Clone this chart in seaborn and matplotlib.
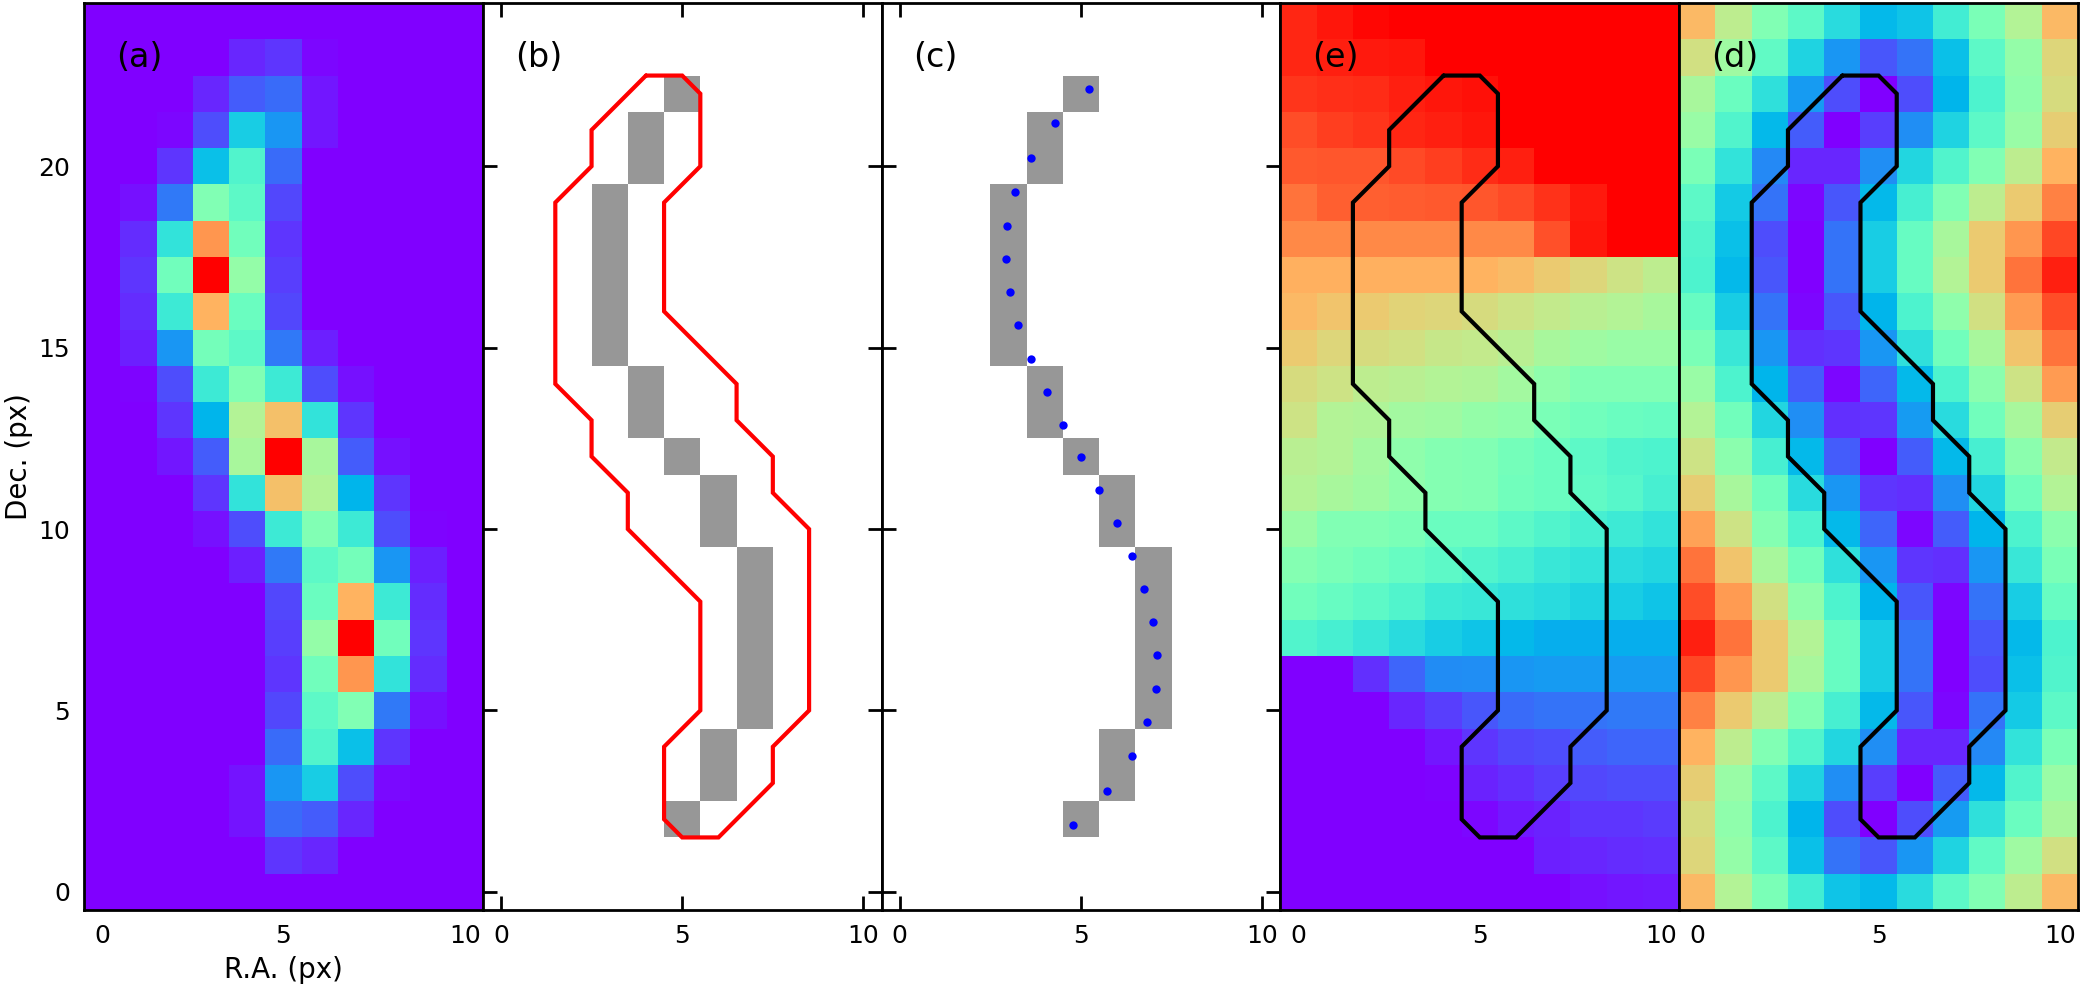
import numpy as np
import pandas as pd
import matplotlib
matplotlib.use("Agg")
import matplotlib.pyplot as plt
from matplotlib.colors import ListedColormap
import seaborn as sns

# Rows run from Dec. = 24 (first) down to Dec. = 0 (last); columns R.A. = 0..10
flux = [
 [0,0,0,0,0,0,0,0,0,0,0],
 [0,0,0,0,.05,.07,.01,0,0,0,0],
 [0,0,0,.05,.12,.14,.03,0,0,0,0],
 [0,0,.01,.10,.30,.20,.03,0,0,0,0],
 [0,0,.07,.27,.41,.14,0,0,0,0,0],
 [0,.02,.16,.50,.43,.09,0,0,0,0,0],
 [0,.055,.35,.80,.47,.07,0,0,0,0,0],
 [0,.07,.47,1,.54,.08,0,0,0,0,0],
 [0,.055,.37,.75,.46,.09,0,0,0,0,0],
 [0,.04,.20,.48,.43,.16,.04,0,0,0,0],
 [0,.005,.10,.37,.50,.37,.10,.02,0,0,0],
 [0,0,.07,.25,.60,.73,.35,.07,0,0,0],
 [0,0,.03,.12,.58,1,.58,.12,.02,0,0],
 [0,0,0,.07,.35,.73,.60,.25,.07,0,0],
 [0,0,0,.02,.10,.37,.50,.37,.10,.005,0],
 [0,0,0,0,.04,.16,.43,.48,.20,.04,0],
 [0,0,0,0,0,.09,.46,.75,.37,.055,0],
 [0,0,0,0,0,.08,.54,1,.47,.07,0],
 [0,0,0,0,0,.07,.47,.80,.35,.055,0],
 [0,0,0,0,0,.09,.43,.50,.16,.02,0],
 [0,0,0,0,0,.14,.41,.27,.07,0,0],
 [0,0,0,0,.025,.20,.30,.10,.015,0,0],
 [0,0,0,0,.025,.14,.12,.05,0,0,0],
 [0,0,0,0,0,.07,.05,0,0,0,0],
 [0,0,0,0,0,0,0,0,0,0,0],
]

velocity = [
 [.95,.97,.99,1,1,1,1,1,1,1,1],
 [.95,.96,.965,.97,1,1,1,1,1,1,1],
 [.93,.94,.945,.96,.97,.98,1,1,1,1,1],
 [.90,.92,.93,.95,.96,.97,1,1,1,1,1],
 [.885,.89,.89,.905,.92,.945,.96,1,1,1,1],
 [.85,.875,.875,.88,.885,.89,.905,.935,.965,1,1],
 [.82,.82,.82,.82,.82,.82,.82,.895,.97,1,1],
 [.755,.755,.755,.755,.755,.75,.735,.71,.68,.65,.62],
 [.74,.72,.71,.69,.68,.67,.65,.63,.61,.60,.58],
 [.71,.68,.67,.66,.64,.63,.61,.58,.56,.55,.55],
 [.67,.65,.62,.61,.60,.59,.57,.53,.50,.50,.50],
 [.65,.60,.59,.57,.56,.54,.53,.49,.47,.46,.45],
 [.61,.60,.57,.53,.51,.50,.48,.46,.43,.41,.40],
 [.60,.58,.56,.53,.51,.50,.47,.46,.44,.42,.39],
 [.55,.50,.50,.49,.46,.46,.43,.41,.39,.37,.35],
 [.51,.49,.47,.45,.43,.41,.39,.36,.35,.33,.32],
 [.47,.45,.43,.41,.37,.36,.34,.33,.31,.30,.28],
 [.41,.39,.36,.33,.30,.28,.26,.24,.24,.24,.24],
 [0,0,.06,.13,.185,.19,.20,.21,.21,.21,.21],
 [0,0,0,.05,.08,.11,.14,.15,.15,.16,.16],
 [0,0,0,0,.03,.07,.09,.10,.12,.13,.13],
 [0,0,0,0,.005,.045,.06,.08,.09,.10,.10],
 [0,0,0,0,0,.01,.035,.045,.07,.07,.075],
 [0,0,0,0,0,0,0,.04,.05,.055,.06],
 [0,0,0,0,0,0,0,0,.02,.03,.035],
]

dispersion = [
 [.74,.62,.50,.43,.33,.26,.28,.38,.49,.60,.74],
 [.66,.56,.44,.31,.20,.11,.15,.27,.43,.54,.68],
 [.58,.46,.34,.21,.10,0,.10,.25,.40,.53,.67],
 [.55,.41,.26,.12,0,.08,.19,.31,.43,.55,.70],
 [.49,.35,.18,.05,.05,.19,.32,.41,.50,.62,.75],
 [.43,.29,.15,.01,.11,.26,.39,.50,.62,.71,.83],
 [.41,.27,.10,0,.15,.30,.45,.58,.71,.80,.91],
 [.40,.26,.11,0,.15,.30,.45,.60,.71,.85,.96],
 [.45,.30,.15,.01,.11,.25,.40,.53,.66,.79,.90],
 [.49,.36,.20,.06,.07,.20,.34,.47,.58,.72,.85],
 [.55,.40,.25,.12,.01,.13,.26,.40,.52,.65,.79],
 [.60,.47,.32,.19,.06,.07,.21,.33,.47,.58,.70],
 [.65,.52,.39,.26,.12,0,.12,.26,.39,.52,.63],
 [.70,.58,.47,.33,.20,.07,.06,.19,.32,.47,.60],
 [.78,.65,.51,.40,.26,.13,.01,.12,.25,.40,.52],
 [.85,.72,.58,.47,.34,.20,.07,.06,.20,.36,.49],
 [.90,.79,.66,.53,.40,.25,.11,.01,.15,.30,.45],
 [.96,.85,.71,.60,.45,.30,.15,0,.11,.26,.40],
 [.91,.80,.71,.58,.45,.30,.15,0,.10,.27,.41],
 [.83,.71,.62,.50,.39,.26,.11,.01,.15,.29,.43],
 [.75,.62,.50,.41,.32,.19,.05,.05,.18,.35,.49],
 [.70,.55,.43,.31,.19,.08,0,.12,.26,.41,.55],
 [.67,.53,.40,.25,.10,0,.10,.21,.34,.46,.58],
 [.68,.54,.43,.27,.15,.11,.20,.31,.44,.56,.66],
 [.74,.60,.49,.38,.28,.26,.33,.43,.50,.62,.74],
]

# Spine cell column for each Dec. row
spine_dec = [22,21,20,19,18,17,16,15,14,13,12,11,10,9,8,7,6,5,4,3,2]
spine_ra  = [5,4,4,3,3,3,3,3,4,4,5,6,6,7,7,7,7,7,6,6,5]

# Ridge points
ridge_ra  = [5.23,4.29,3.63,3.19,2.97,2.94,3.05,3.27,3.63,4.05,4.51,5.01,5.51,5.98,6.40,6.75,6.98,7.09,7.06,6.81,6.40,5.73,4.79]
ridge_dec = [22.14,21.20,20.23,19.29,18.35,17.44,16.53,15.62,14.68,13.79,12.88,12.00,11.09,10.17,9.26,8.35,7.44,6.53,5.59,4.68,3.74,2.77,1.83]

# Aperture outline
outline_ra  = [4,5,5.5,5.5,4.5,4.5,6.5,6.5,7.5,7.5,8.5,8.5,7.5,7.5,6,5,4.5,4.5,5.5,5.5,3.5,3.5,2.5,2.5,1.5,1.5,2.5,2.5,4]
outline_dec = [22.5,22.5,22,20,19,16,14,13,12,11,10,5,4,3,1.5,1.5,2,4,5,8,10,11,12,13,14,19,20,21,22.5]

ra_ticks = [0, 5, 10]
dec_ticks = [0, 5, 10, 15, 20]
panel_labels = ["(a)", "(b)", "(c)", "(e)", "(d)"]

sns.set_style("white")
plt.rcParams["font.family"] = "DejaVu Sans"
plt.rcParams["text.color"] = "black"
plt.rcParams["axes.labelcolor"] = "black"
plt.rcParams["xtick.color"] = "black"
plt.rcParams["ytick.color"] = "black"

W, H = 2084, 984
DPI = 200
fig = plt.figure(figsize=(W / DPI, H / DPI), dpi=DPI, facecolor="white")
L, R, T, B = 84, 2078, 3, 910
pw = (R - L) / 5
OFF = 0.5  # heatmap cells are centred at index + 0.5


def mask_frame():
    m = np.full((25, 11), np.nan)
    for d, r in zip(spine_dec, spine_ra):
        m[d, r] = 1.0
    return pd.DataFrame(m)


def new_axes(i):
    return fig.add_axes([(L + i * pw) / W, 1 - B / H, pw / W, (B - T) / H])


def finish(ax, i, label):
    ax.set_xlim(0, 11)
    ax.set_ylim(0, 25)
    ax.set_aspect("auto")
    for s in ax.spines.values():
        s.set_visible(True)
        s.set_color("black")
        s.set_linewidth(1.0)
    ax.set_xticks([t + OFF for t in ra_ticks])
    ax.set_xticklabels([str(t) for t in ra_ticks], rotation=0, fontsize=9)
    ax.set_yticks([t + OFF for t in dec_ticks])
    ax.set_yticklabels([str(t) for t in dec_ticks], rotation=0, fontsize=9)
    ax.tick_params(axis="both", which="major", direction="in", length=5, width=1.0,
                   top=True, bottom=True, left=True, right=True,
                   labelleft=(i == 0), colors="black", pad=5)
    ax.text(0.08, 0.94, label, transform=ax.transAxes, fontsize=12,
            ha="left", va="center", color="black")
    ax.set_xlabel("")
    ax.set_ylabel("")


maps = {0: flux, 3: velocity, 4: dispersion}
for i in range(5):
    ax = new_axes(i)
    if i in maps:
        df = pd.DataFrame(np.array(maps[i])[::-1])
        sns.heatmap(df, ax=ax, cmap="rainbow", vmin=0, vmax=1, cbar=False,
                    xticklabels=False, yticklabels=False)
    else:
        sns.heatmap(mask_frame(), ax=ax, cmap=ListedColormap(["#979797"]), vmin=0, vmax=2,
                    cbar=False, xticklabels=False, yticklabels=False)
    finish(ax, i, panel_labels[i])
    ox = [v + OFF for v in outline_ra]
    oy = [v + OFF for v in outline_dec]
    if i == 1:
        ax.plot(ox, oy, color="red", lw=1.5, solid_joinstyle="miter")
    elif i in (3, 4):
        ax.plot(ox, oy, color="black", lw=1.5, solid_joinstyle="miter")
    elif i == 2:
        sns.scatterplot(x=[v + OFF for v in ridge_ra], y=[v + OFF for v in ridge_dec],
                        ax=ax, color="blue", s=9, linewidth=0, zorder=3)
        ax.set_xlabel("")
        ax.set_ylabel("")
    if i == 0:
        ax.set_xlabel("R.A. (px)", fontsize=10, labelpad=3)
        ax.set_ylabel("Dec. (px)", fontsize=10, labelpad=2)

fig.savefig("out.png", dpi=DPI, facecolor="white")
